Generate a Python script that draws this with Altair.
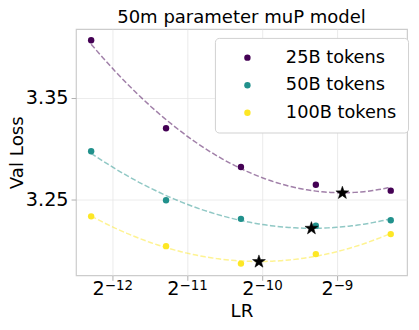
import math
import altair as alt
import pandas as pd

# ---- data ----
SERIES = ["25B tokens", "50B tokens", "100B tokens"]
COLORS = ["#440154", "#21918c", "#fde725"]
LR = [0.0002, 0.0004, 0.0008, 0.0016, 0.0032]
LOSS_25B = [3.4066, 3.3199, 3.2817, 3.2642, 3.2584]
LOSS_50B = [3.2972, 3.2490, 3.2306, 3.2238, 3.2292]
LOSS_100B = [3.2331, 3.2037, 3.1865, 3.1959, 3.2156]
STAR_LR = [0.002045, 0.001536, 0.000945]
STAR_LOSS = [3.2561, 3.2212, 3.1884]
X_TICKS = [2 ** -12, 2 ** -11, 2 ** -10, 2 ** -9]
X_TICK_BASE = ["2", "2", "2", "2"]
X_TICK_EXP = ["−12", "−11", "−10", "−9"]
Y_TICKS = [3.25, 3.35]
X_DOMAIN = [2 ** -12.49, 2 ** -8.07]
Y_DOMAIN = [3.1749, 3.4176]

rows = []
for name, losses in zip(SERIES, [LOSS_25B, LOSS_50B, LOSS_100B]):
    for lr, l in zip(LR, losses):
        rows.append({"LR": lr, "loss": l, "tokens": name})
df = pd.DataFrame(rows)
stars = pd.DataFrame({"LR": STAR_LR, "loss": STAR_LOSS, "tokens": SERIES})

FONT = "DejaVu Sans"
W, H = 336, 250
LABEL_FS = 19.5
EXP_FS = 13.6

# star symbol path in unit coordinates
pts = []
for i in range(10):
    r = 1.0 if i % 2 == 0 else 0.4
    a = math.radians(-90 + 36 * i)
    pts.append(f"{r * math.cos(a):.3f},{r * math.sin(a):.3f}")
STAR_PATH = "M" + "L".join(pts) + "Z"

x_scale = alt.Scale(type="log", base=2, domain=X_DOMAIN, nice=False, zero=False)
y_scale = alt.Scale(domain=Y_DOMAIN, nice=False, zero=False)
color_scale = alt.Scale(domain=SERIES, range=COLORS)

x_axis = alt.Axis(values=X_TICKS, labels=False, title="LR", titleFontSize=18.5,
                  tickSize=5, titleBaseline="middle", titleY=36)
y_axis = alt.Axis(values=Y_TICKS, format=".2f", title="Val Loss", labelFontSize=LABEL_FS,
                  titleFontSize=18.5, tickSize=5, labelPadding=3,
                  titleBaseline="middle", titleX=-60, titleY=H / 2)

legend = alt.Legend(
    title=None, orient="none", legendX=141, legendY=9,
    labelFontSize=18, labelFont=FONT, symbolSize=42, symbolType="circle",
    symbolOffset=13, labelOffset=30, rowPadding=10, padding=11,
    fillColor="white", strokeColor="#d0d0d0", cornerRadius=4,
    labelLimit=300, symbolStrokeWidth=0, symbolOpacity=1,
)

X = alt.X("LR:Q", scale=x_scale, axis=x_axis)
Y = alt.Y("loss:Q", scale=y_scale, axis=y_axis)
C = alt.Color("tokens:N", scale=color_scale, legend=legend)

base = alt.Chart(df)

lines = base.transform_calculate(
    logLR="log(datum.LR) / LN2"
).transform_regression(
    "logLR", "loss", groupby=["tokens"], method="poly", order=2
).transform_calculate(
    LR="pow(2, datum.logLR)"
).mark_line(strokeDash=[5.5, 2.4], strokeWidth=1.5, opacity=0.5).encode(
    x=X, y=Y, color=C,
)

points = base.mark_circle(size=42, opacity=1).encode(x=X, y=Y, color=C)

star_layer = alt.Chart(stars).mark_point(
    shape=STAR_PATH, filled=True, fill="black", stroke="black", strokeWidth=0.5,
    size=190, opacity=1,
).encode(x=X, y=Y)

# x tick labels drawn as "2" with a superscript exponent
tick_layers = []
for v, b, e in zip(X_TICKS, X_TICK_BASE, X_TICK_EXP):
    wb = 0.636 * LABEL_FS
    we = (0.838 + 0.636 * (len(e) - 1)) * EXP_FS
    split = -(wb + we) / 2 + wb
    d = pd.DataFrame({"LR": [v], "base": [b], "exp": [e]})
    tick_layers.append(
        alt.Chart(d).mark_text(
            align="right", baseline="alphabetic", dx=split, fontSize=LABEL_FS,
            font=FONT, color="black",
        ).encode(x=alt.X("LR:Q", scale=x_scale, axis=x_axis),
                 y=alt.value(H + 20), text="base:N")
    )
    tick_layers.append(
        alt.Chart(d).mark_text(
            align="left", baseline="alphabetic", dx=split, fontSize=EXP_FS,
            font=FONT, color="black",
        ).encode(x=alt.X("LR:Q", scale=x_scale, axis=x_axis),
                 y=alt.value(H + 14.5), text="exp:N")
    )

chart = alt.layer(lines, points, star_layer, *tick_layers).properties(
    width=W, height=H,
    title=alt.Title("50m parameter muP model", fontSize=18.3, font=FONT,
                    fontWeight="normal", offset=2, color="black"),
    autosize=alt.AutoSizeParams(type="none"),
    padding={"left": 69, "top": 19, "right": 4, "bottom": 50},
).configure(
    font=FONT,
).configure_view(
    stroke="#cccccc", strokeWidth=1.2,
).configure_axis(
    domain=False, grid=True, gridColor="#e6e6e6", gridWidth=0.8,
    tickColor="#b0b0b0", tickWidth=1, labelColor="black", titleColor="black",
    labelFont=FONT, titleFont=FONT, titleFontWeight="normal",
)

chart.save("out.html", embed_options={"renderer": "svg", "actions": False})
